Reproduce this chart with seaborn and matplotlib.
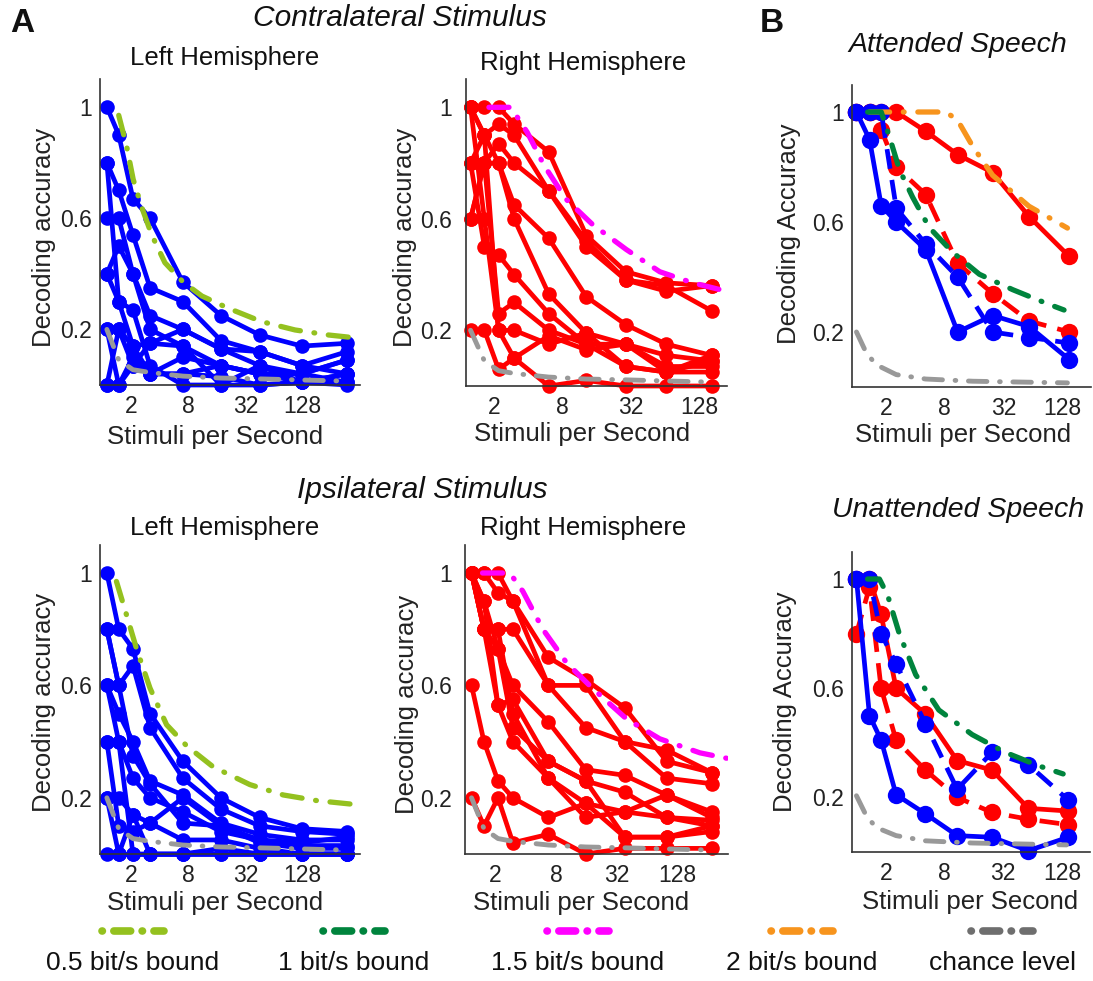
import numpy as np
import pandas as pd
import matplotlib
matplotlib.use("Agg")
import matplotlib.pyplot as plt
import seaborn as sns
from matplotlib.lines import Line2D
from matplotlib.offsetbox import DrawingArea, TextArea, VPacker, AnchoredOffsetbox

sns.set_theme(style="white")
plt.rcParams['font.family'] = ['Liberation Sans', 'DejaVu Sans']

# ---------------- data ----------------
rate_left = [1.11, 1.48, 2.09, 3.16, 7.0, 17.6, 45, 125, 375]
rate_contra_right = [1.24, 1.64, 2.19, 3.0, 6.06, 13, 29, 66, 165]
rate_ipsi_right = [1.15, 1.53, 2.11, 2.97, 6.7, 15.8, 38.7, 101, 284]
rate_speech = [1.0, 1.36, 1.79, 2.55, 5.1, 10.8, 24.6, 58, 149]

contra_left = [
    [1.0, 0.9, 0.67, 0.60, 0.37, 0.25, 0.18, 0.14, 0.15],
    [0.8, 0.7, 0.54, 0.35, 0.30, 0.16, 0.12, 0.07, 0.12],
    [0.6, 0.6, 0.40, 0.25, 0.20, 0.13, 0.07, 0.04, 0.09],
    [0.4, 0.5, 0.40, 0.20, 0.14, 0.07, 0.04, 0.01, 0.04],
    [0.8, 0.3, 0.14, 0.15, 0.20, 0.13, 0.12, 0.07, 0.04],
    [0.2, 0.2, 0.14, 0.04, 0.10, 0.07, 0.04, 0.04, 0.01],
    [0.0, 0.2, 0.07, 0.15, 0.14, 0.00, 0.07, 0.01, 0.04],
    [0.4, 0.3, 0.27, 0.07, 0.00, 0.00, 0.00, 0.01, 0.00],
    [0.2, 0.0, 0.07, 0.04, 0.04, 0.03, 0.00, 0.01, 0.01],
    [0.0, 0.0, 0.10, 0.04, 0.04, 0.07, 0.04, 0.04, 0.09],
]
contra_right = [
    [1.0, 1.0, 1.0, 0.94, 0.84, 0.54, 0.41, 0.37, 0.36],
    [1.0, 0.9, 0.94, 0.90, 0.70, 0.50, 0.38, 0.34, 0.36],
    [0.8, 0.8, 0.87, 0.80, 0.70, 0.52, 0.38, 0.36, 0.27],
    [0.6, 0.8, 0.80, 0.65, 0.53, 0.32, 0.22, 0.15, 0.11],
    [1.0, 0.9, 0.80, 0.60, 0.33, 0.19, 0.15, 0.07, 0.07],
    [0.8, 0.5, 0.47, 0.40, 0.26, 0.15, 0.15, 0.11, 0.09],
    [0.6, 0.8, 0.26, 0.30, 0.20, 0.15, 0.07, 0.05, 0.05],
    [1.0, 0.6, 0.20, 0.10, 0.18, 0.13, 0.15, 0.05, 0.09],
    [0.2, 0.2, 0.06, 0.10, 0.00, 0.02, 0.00, 0.00, 0.00],
    [0.8, 0.9, 0.20, 0.20, 0.15, 0.19, 0.07, 0.05, 0.11],
]
ipsi_left = [
    [1.0, 0.8, 0.73, 0.50, 0.33, 0.20, 0.13, 0.09, 0.08],
    [0.8, 0.6, 0.67, 0.45, 0.27, 0.16, 0.10, 0.08, 0.07],
    [0.6, 0.5, 0.40, 0.26, 0.21, 0.11, 0.07, 0.05, 0.05],
    [0.4, 0.4, 0.27, 0.20, 0.15, 0.08, 0.05, 0.03, 0.03],
    [0.8, 0.6, 0.35, 0.25, 0.11, 0.10, 0.05, 0.04, 0.06],
    [0.2, 0.2, 0.14, 0.11, 0.20, 0.10, 0.04, 0.02, 0.02],
    [0.4, 0.1, 0.08, 0.11, 0.05, 0.05, 0.02, 0.00, 0.00],
    [0.6, 0.4, 0.00, 0.00, 0.00, 0.00, 0.00, 0.00, 0.00],
    [0.0, 0.0, 0.00, 0.00, 0.00, 0.00, 0.00, 0.00, 0.00],
    [0.2, 0.0, 0.14, 0.00, 0.00, 0.02, 0.00, 0.00, 0.00],
]
ipsi_right = [
    [1.0, 1.0, 1.0, 0.90, 0.70, 0.62, 0.52, 0.33, 0.29],
    [1.0, 1.0, 0.93, 0.90, 0.60, 0.60, 0.40, 0.37, 0.29],
    [1.0, 0.8, 0.80, 0.80, 0.60, 0.45, 0.40, 0.27, 0.25],
    [1.0, 0.8, 0.73, 0.60, 0.47, 0.30, 0.28, 0.21, 0.15],
    [1.0, 0.9, 0.53, 0.55, 0.33, 0.26, 0.22, 0.13, 0.10],
    [1.0, 0.8, 0.80, 0.50, 0.27, 0.18, 0.15, 0.13, 0.12],
    [1.0, 0.9, 0.73, 0.45, 0.33, 0.26, 0.06, 0.06, 0.08],
    [1.0, 0.8, 0.53, 0.40, 0.27, 0.13, 0.15, 0.21, 0.13],
    [0.6, 0.4, 0.26, 0.20, 0.13, 0.18, 0.06, 0.06, 0.10],
    [0.2, 0.1, 0.20, 0.04, 0.07, 0.00, 0.02, 0.02, 0.02],
]

att_red_solid = [1.0, 1.0, 1.0, 1.0, 0.93, 0.845, 0.78, 0.62, 0.475]
att_red_dashed = [1.0, 1.0, 0.935, 0.80, 0.70, 0.45, 0.34, 0.24, 0.20]
att_blue_solid = [1.0, 0.90, 0.66, 0.60, 0.50, 0.20, 0.26, 0.22, 0.10]
att_blue_dashed = [1.0, 1.0, 1.0, 0.65, 0.52, 0.40, 0.20, 0.18, 0.16]
unatt_red_solid = [1.0, 1.0, 0.87, 0.60, 0.505, 0.335, 0.30, 0.16, 0.15]
unatt_red_dashed = [0.8, 0.97, 0.60, 0.41, 0.30, 0.20, 0.145, 0.12, 0.10]
unatt_blue_solid = [1.0, 0.50, 0.41, 0.21, 0.14, 0.06, 0.054, 0.005, 0.054]
unatt_blue_dashed = [1.0, 1.0, 0.80, 0.69, 0.47, 0.23, 0.365, 0.32, 0.19]

# bounds
half_bit_contra_x = [1.48, 1.79, 2.10, 2.58, 3.29, 4.53, 7.06, 11.1, 21.1, 47.2, 106, 237, 505]
half_bit_contra_y = [0.97, 0.86, 0.74, 0.64, 0.54, 0.44, 0.37, 0.32, 0.276, 0.228, 0.198, 0.18, 0.168]
half_bit_ipsi_x = [1.40, 1.79, 2.28, 3.16, 4.72, 7.67, 14.6, 35.5, 79.9, 180, 491]
half_bit_ipsi_y = [0.97, 0.85, 0.73, 0.59, 0.46, 0.385, 0.31, 0.247, 0.21, 0.19, 0.175]
onehalf_bit_contra_x = [1.8, 2.81, 3.92, 5.54, 8.63, 14.7, 29.2, 57.7, 113, 224]
onehalf_bit_contra_y = [1.0, 1.0, 0.91, 0.79, 0.67, 0.58, 0.49, 0.41, 0.37, 0.34]
onehalf_bit_ipsi_x = [1.48, 2.77, 3.73, 5.9, 10.2, 18.4, 40.5, 86.2, 217, 410]
onehalf_bit_ipsi_y = [1.0, 1.0, 0.935, 0.80, 0.68, 0.59, 0.48, 0.41, 0.36, 0.34]
chance_a = [0.2, 0.09, 0.055, 0.045, 0.032, 0.025, 0.022, 0.018, 0.014]

one_bit_att_x = [1.3, 1.79, 2.17, 2.75, 3.75, 5.54, 9.6, 18, 39.4, 86, 132]
one_bit_att_y = [1.0, 1.0, 0.91, 0.79, 0.69, 0.58, 0.49, 0.41, 0.354, 0.305, 0.28]
two_bit_att_x = [1.36, 8.2, 10.8, 15.4, 24.6, 58, 143]
two_bit_att_y = [1.0, 1.0, 0.97, 0.875, 0.77, 0.657, 0.578]
chance_att_x = [1.0, 1.26, 1.59, 2.55, 5.1, 15.4, 143]
chance_att_y = [0.2, 0.124, 0.081, 0.045, 0.029, 0.021, 0.015]
one_bit_unatt_x = [1.3, 1.72, 2.09, 2.75, 4.05, 7.0, 15.4, 33.6, 73.5, 132]
one_bit_unatt_y = [1.0, 1.0, 0.94, 0.80, 0.65, 0.52, 0.43, 0.365, 0.316, 0.286]
chance_unatt_x = [1.0, 1.26, 1.59, 2.55, 5.1, 15.4, 143]
chance_unatt_y = [0.206, 0.133, 0.09, 0.06, 0.041, 0.033, 0.026]

x_ticks = [2, 8, 32, 128]
y_ticks = [0.2, 0.6, 1.0]
y_ticklabels = ["0.2", "0.6", "1"]

legend_labels = ["0.5 bit/s bound", "1 bit/s bound", "1.5 bit/s bound", "2 bit/s bound", "chance level"]

# ---------------- styles ----------------
BLUE = "#0000FF"
RED = "#FF0000"
C_HALF = "#94C11F"
C_ONE = "#00843D"
C_ONEHALF = "#FF00FF"
C_TWO = "#F7941D"
C_CHANCE = "#999999"
C_CHANCE_LEG = "#6E6E6E"
BOUND_DASH = (3.8, 2.6, 0.15, 2.6)

W, H = 1093, 981
fig = plt.figure(figsize=(W / 100, H / 100), dpi=100)


def make_ax(x0, x1, ybot, per_unit):
    ymax = 1.1
    top = ybot - ymax * per_unit
    ax = fig.add_axes([x0 / W, 1 - ybot / H, (x1 - x0) / W, (ybot - top) / H])
    ax.set_xscale("log", base=2)
    ax.set_ylim(0, ymax)
    return ax


def style_ax(ax, xlim, ypad, xlab_pos, ylab_pos, ylabel):
    ax.set_xlim(*xlim)
    ax.set_xticks(x_ticks)
    ax.set_xticklabels([str(t) for t in x_ticks])
    ax.xaxis.set_minor_locator(matplotlib.ticker.NullLocator())
    ax.set_yticks(y_ticks)
    ax.set_yticklabels(y_ticklabels)
    for s in ["top", "right"]:
        ax.spines[s].set_visible(False)
    for s in ["left", "bottom"]:
        ax.spines[s].set_color("#333333")
        ax.spines[s].set_linewidth(1.2)
    ax.tick_params(axis="both", direction="in", length=4, width=1, colors="#333333",
                   labelsize=16.5, labelcolor="#222222")
    ax.tick_params(axis="x", pad=7)
    ax.tick_params(axis="y", pad=ypad)
    ax.set_xlabel("Stimuli per Second", fontsize=18.5, color="#222222", va="center")
    ax.set_ylabel(ylabel, fontsize=18.5, color="#222222", va="center")
    ax.xaxis.set_label_coords(*xlab_pos)
    ax.yaxis.set_label_coords(*ylab_pos)
    ax.grid(False)
    ax.set_facecolor("white")


def draw_sites(ax, rates, series, color):
    rows = []
    for i, s in enumerate(series):
        for r, v in zip(rates, s):
            rows.append({"rate": r, "acc": v, "site": i})
    df = pd.DataFrame(rows)
    sns.lineplot(data=df, x="rate", y="acc", units="site", estimator=None, color=color,
                 lw=3.4, marker="o", markersize=10.5, markeredgecolor=color,
                 markeredgewidth=0, clip_on=False, ax=ax, legend=False, sort=False)


def draw_line(ax, rates, vals, color, dashed=False, ms=12.5, lw=3.4):
    kw = dict(dashes=(4.2, 2.4)) if dashed else {}
    sns.lineplot(x=rates, y=vals, estimator=None, color=color, lw=lw, marker="o",
                 markersize=ms, markeredgecolor=color, markeredgewidth=0,
                 clip_on=False, ax=ax, legend=False, sort=False, **kw)


def draw_bound(ax, xs, ys, color, lw=3.8, z=5):
    sns.lineplot(x=xs, y=ys, estimator=None, color=color, lw=lw, dashes=BOUND_DASH,
                 dash_capstyle="round", ax=ax, legend=False, sort=False, zorder=z)


# ---- Panel A, contralateral, left hemisphere
ax1 = make_ax(100, 360, 385, 278)
draw_sites(ax1, rate_left, contra_left, BLUE)
draw_bound(ax1, half_bit_contra_x, half_bit_contra_y, C_HALF)
draw_bound(ax1, rate_left, chance_a, C_CHANCE, lw=3.5)
style_ax(ax1, (0.94, 512), 6, (0.444, -0.17), (-0.215, 0.484), "Decoding accuracy")

# ---- contralateral, right hemisphere
ax2 = make_ax(466, 727, 386, 278.7)
draw_sites(ax2, rate_contra_right, contra_right, RED)
draw_bound(ax2, onehalf_bit_contra_x, onehalf_bit_contra_y, C_ONEHALF)
draw_bound(ax2, rate_contra_right, chance_a, C_CHANCE, lw=3.5)
style_ax(ax2, (1.13, 226), 10, (0.444, -0.155), (-0.235, 0.486), "Decoding accuracy")

# ---- B attended
ax3 = make_ax(852, 1091, 387, 275)
draw_line(ax3, rate_speech, att_red_solid, RED)
draw_line(ax3, rate_speech, att_red_dashed, RED, dashed=True)
draw_line(ax3, rate_speech, att_blue_solid, BLUE)
draw_line(ax3, rate_speech, att_blue_dashed, BLUE, dashed=True)
draw_bound(ax3, two_bit_att_x, two_bit_att_y, C_TWO)
draw_bound(ax3, one_bit_att_x, one_bit_att_y, C_ONE)
draw_bound(ax3, chance_att_x, chance_att_y, C_CHANCE, lw=3.5)
style_ax(ax3, (0.9, 249), 5.5, (0.464, -0.16), (-0.265, 0.506), "Decoding Accuracy")

# ---- ipsilateral, left hemisphere
ax4 = make_ax(100, 360, 854, 281)
draw_sites(ax4, rate_left, ipsi_left, BLUE)
draw_bound(ax4, half_bit_ipsi_x, half_bit_ipsi_y, C_HALF)
draw_bound(ax4, rate_left, chance_a, C_CHANCE, lw=3.5)
style_ax(ax4, (0.94, 512), 6, (0.444, -0.158), (-0.215, 0.489), "Decoding accuracy")

# ---- ipsilateral, right hemisphere
ax5 = make_ax(465, 728, 854, 281)
draw_sites(ax5, rate_ipsi_right, ipsi_right, RED)
draw_bound(ax5, onehalf_bit_ipsi_x, onehalf_bit_ipsi_y, C_ONEHALF)
draw_bound(ax5, rate_ipsi_right, chance_a, C_CHANCE, lw=3.5)
style_ax(ax5, (0.99, 413), 9.5, (0.441, -0.158), (-0.222, 0.485), "Decoding accuracy")

# ---- B unattended
ax6 = make_ax(852, 1090, 852, 273)
draw_line(ax6, rate_speech, unatt_red_solid, RED)
draw_line(ax6, rate_speech, unatt_red_dashed, RED, dashed=True)
draw_line(ax6, rate_speech, unatt_blue_solid, BLUE)
draw_line(ax6, rate_speech, unatt_blue_dashed, BLUE, dashed=True)
draw_bound(ax6, one_bit_unatt_x, one_bit_unatt_y, C_ONE)
draw_bound(ax6, chance_unatt_x, chance_unatt_y, C_CHANCE, lw=3.5)
style_ax(ax6, (0.9, 249), 5.5, (0.496, -0.167), (-0.28, 0.50), "Decoding Accuracy")

# ---------------- titles ----------------
def ftext(x, y, s, **kw):
    fig.text(x / W, 1 - y / H, s, ha="center", va="center", color="#111111", **kw)

ftext(22, 24, "A", fontsize=24, fontweight="bold")
ftext(772, 24, "B", fontsize=24, fontweight="bold")
ftext(400, 18, "Contralateral Stimulus", fontsize=21.5, style="italic")
ftext(225, 58, "Left Hemisphere", fontsize=18.5)
ftext(583, 63, "Right Hemisphere", fontsize=18.5)
ftext(958, 45, "Attended Speech", fontsize=20.5, style="italic")
ftext(422, 490, "Ipsilateral Stimulus", fontsize=21.5, style="italic")
ftext(225, 528, "Left Hemisphere", fontsize=18.5)
ftext(583, 528, "Right Hemisphere", fontsize=18.5)
ftext(958, 510, "Unattended Speech", fontsize=20.5, style="italic")

# ---------------- legend ----------------
legend_colors = [C_HALF, C_ONE, C_ONEHALF, C_TWO, C_CHANCE_LEG]
legend_centers = [133, 354, 578, 802, 1002]
for lab, col, cx in zip(legend_labels, legend_colors, legend_centers):
    da = DrawingArea(50, 8, 0, 0)
    da.add_artist(Line2D([3, 47], [4, 4], color=col, lw=5.5,
                         dashes=(0.05, 1.5, 2.2, 1.5), dash_capstyle="round"))
    ta = TextArea(lab, textprops=dict(size=19, color="#111111"))
    box = VPacker(children=[da, ta], align="center", pad=0, sep=10)
    ab = AnchoredOffsetbox(loc="center", child=box, frameon=False, pad=0, borderpad=0,
                           bbox_to_anchor=(cx / W, 1 - 950 / H),
                           bbox_transform=fig.transFigure)
    fig.add_artist(ab)

fig.savefig("out.png", dpi=100, facecolor="white")
